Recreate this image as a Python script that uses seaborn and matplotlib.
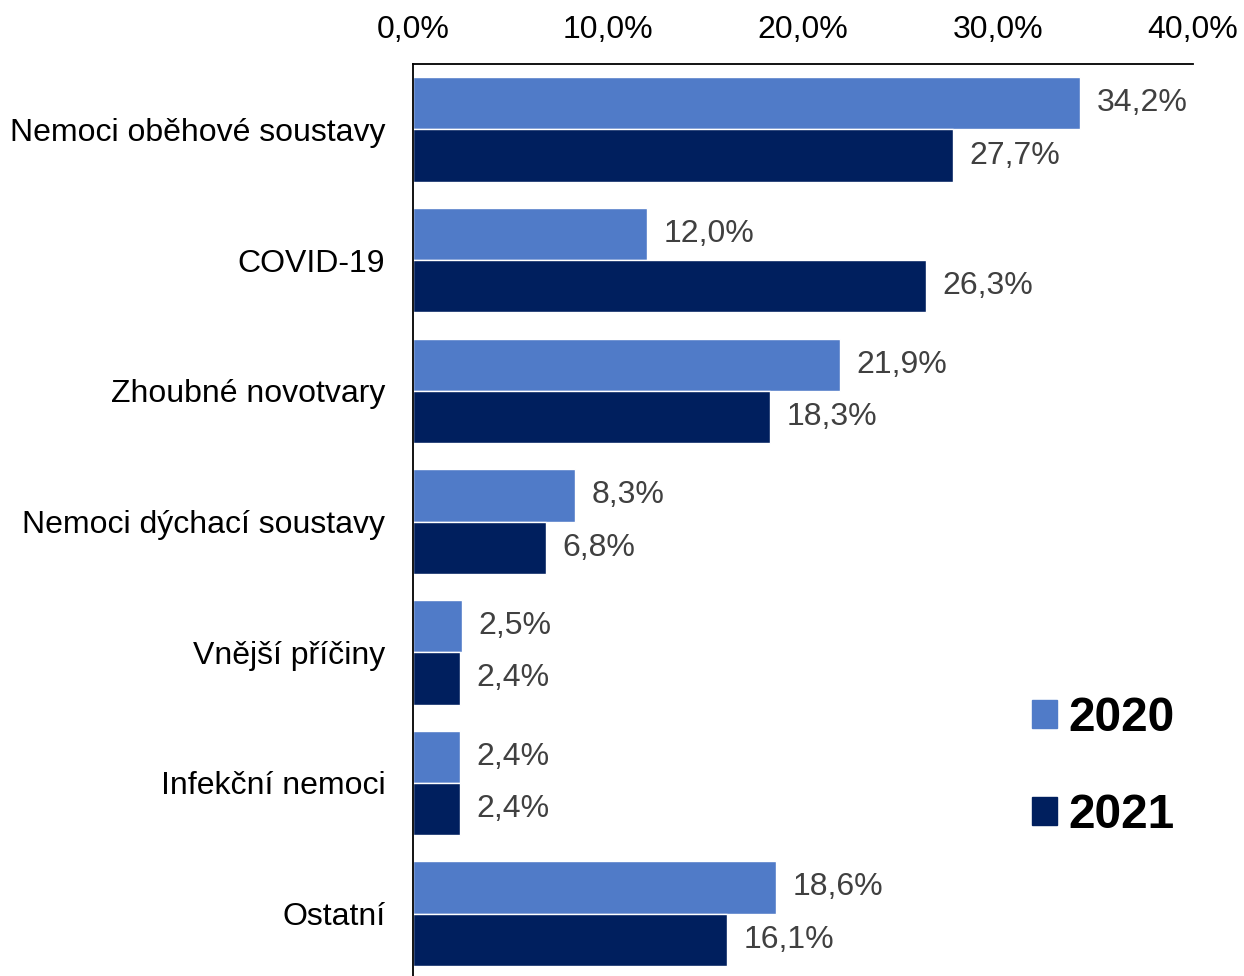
import pandas as pd
import seaborn as sns
import matplotlib.pyplot as plt
from matplotlib.patches import Patch

# Data
categories = ['Nemoci oběhové soustavy', 'COVID-19', 'Zhoubné novotvary',
              'Nemoci dýchací soustavy', 'Vnější příčiny', 'Infekční nemoci', 'Ostatní']
values_2020 = [34.2, 12.0, 21.9, 8.3, 2.5, 2.4, 18.6]
values_2021 = [27.7, 26.3, 18.3, 6.8, 2.4, 2.4, 16.1]
years = ['2020', '2021']
x_ticks = [0, 10, 20, 30, 40]

df = pd.DataFrame({
    'category': categories * 2,
    'year': [years[0]] * len(categories) + [years[1]] * len(categories),
    'value': values_2020 + values_2021,
})

sns.set_style('white')
plt.rcParams['font.family'] = ['Liberation Sans', 'DejaVu Sans']

fig = plt.figure(figsize=(12.44, 9.76), dpi=100)
ax = fig.add_axes([413 / 1244, -3 / 976, 780 / 1244, 915 / 976])

palette = {'2020': '#507BC8', '2021': '#001F5E'}
sns.barplot(data=df, y='category', x='value', hue='year', order=categories,
            hue_order=years, palette=palette, orient='h', width=0.8,
            saturation=1, ax=ax, legend=False)

# Value labels
for container in ax.containers:
    labels = [f'{v:.1f}%'.replace('.', ',') for v in container.datavalues]
    ax.bar_label(container, labels=labels, padding=12, fontsize=23, color='#404040')

ax.set_xlim(0, 40)
ax.set_ylim(6.5, -0.5)
ax.xaxis.tick_top()
ax.set_xticks(x_ticks)
ax.set_xticklabels([f'{t:.1f}%'.replace('.', ',') for t in x_ticks], fontsize=23)
ax.tick_params(axis='x', length=0, pad=14, labelcolor='black')
ax.tick_params(axis='y', length=0, pad=20, labelsize=23, labelcolor='black')
ax.set_xlabel('')
ax.set_ylabel('')

for side in ['right', 'bottom']:
    ax.spines[side].set_visible(False)
for side in ['left', 'top']:
    ax.spines[side].set_color('black')
    ax.spines[side].set_linewidth(1.3)

# Legend
handles = [Patch(color=palette[y], label=y) for y in years]
fig.legend(handles=handles, loc='center left', bbox_to_anchor=(989 / 1244, 1 - 767 / 976),
           frameon=False, prop={'weight': 'bold', 'size': 34.5}, labelcolor='black',
           handlelength=0.52, handleheight=0.52, handletextpad=0.23, labelspacing=1.1)

fig.savefig('out.png', dpi=100)
